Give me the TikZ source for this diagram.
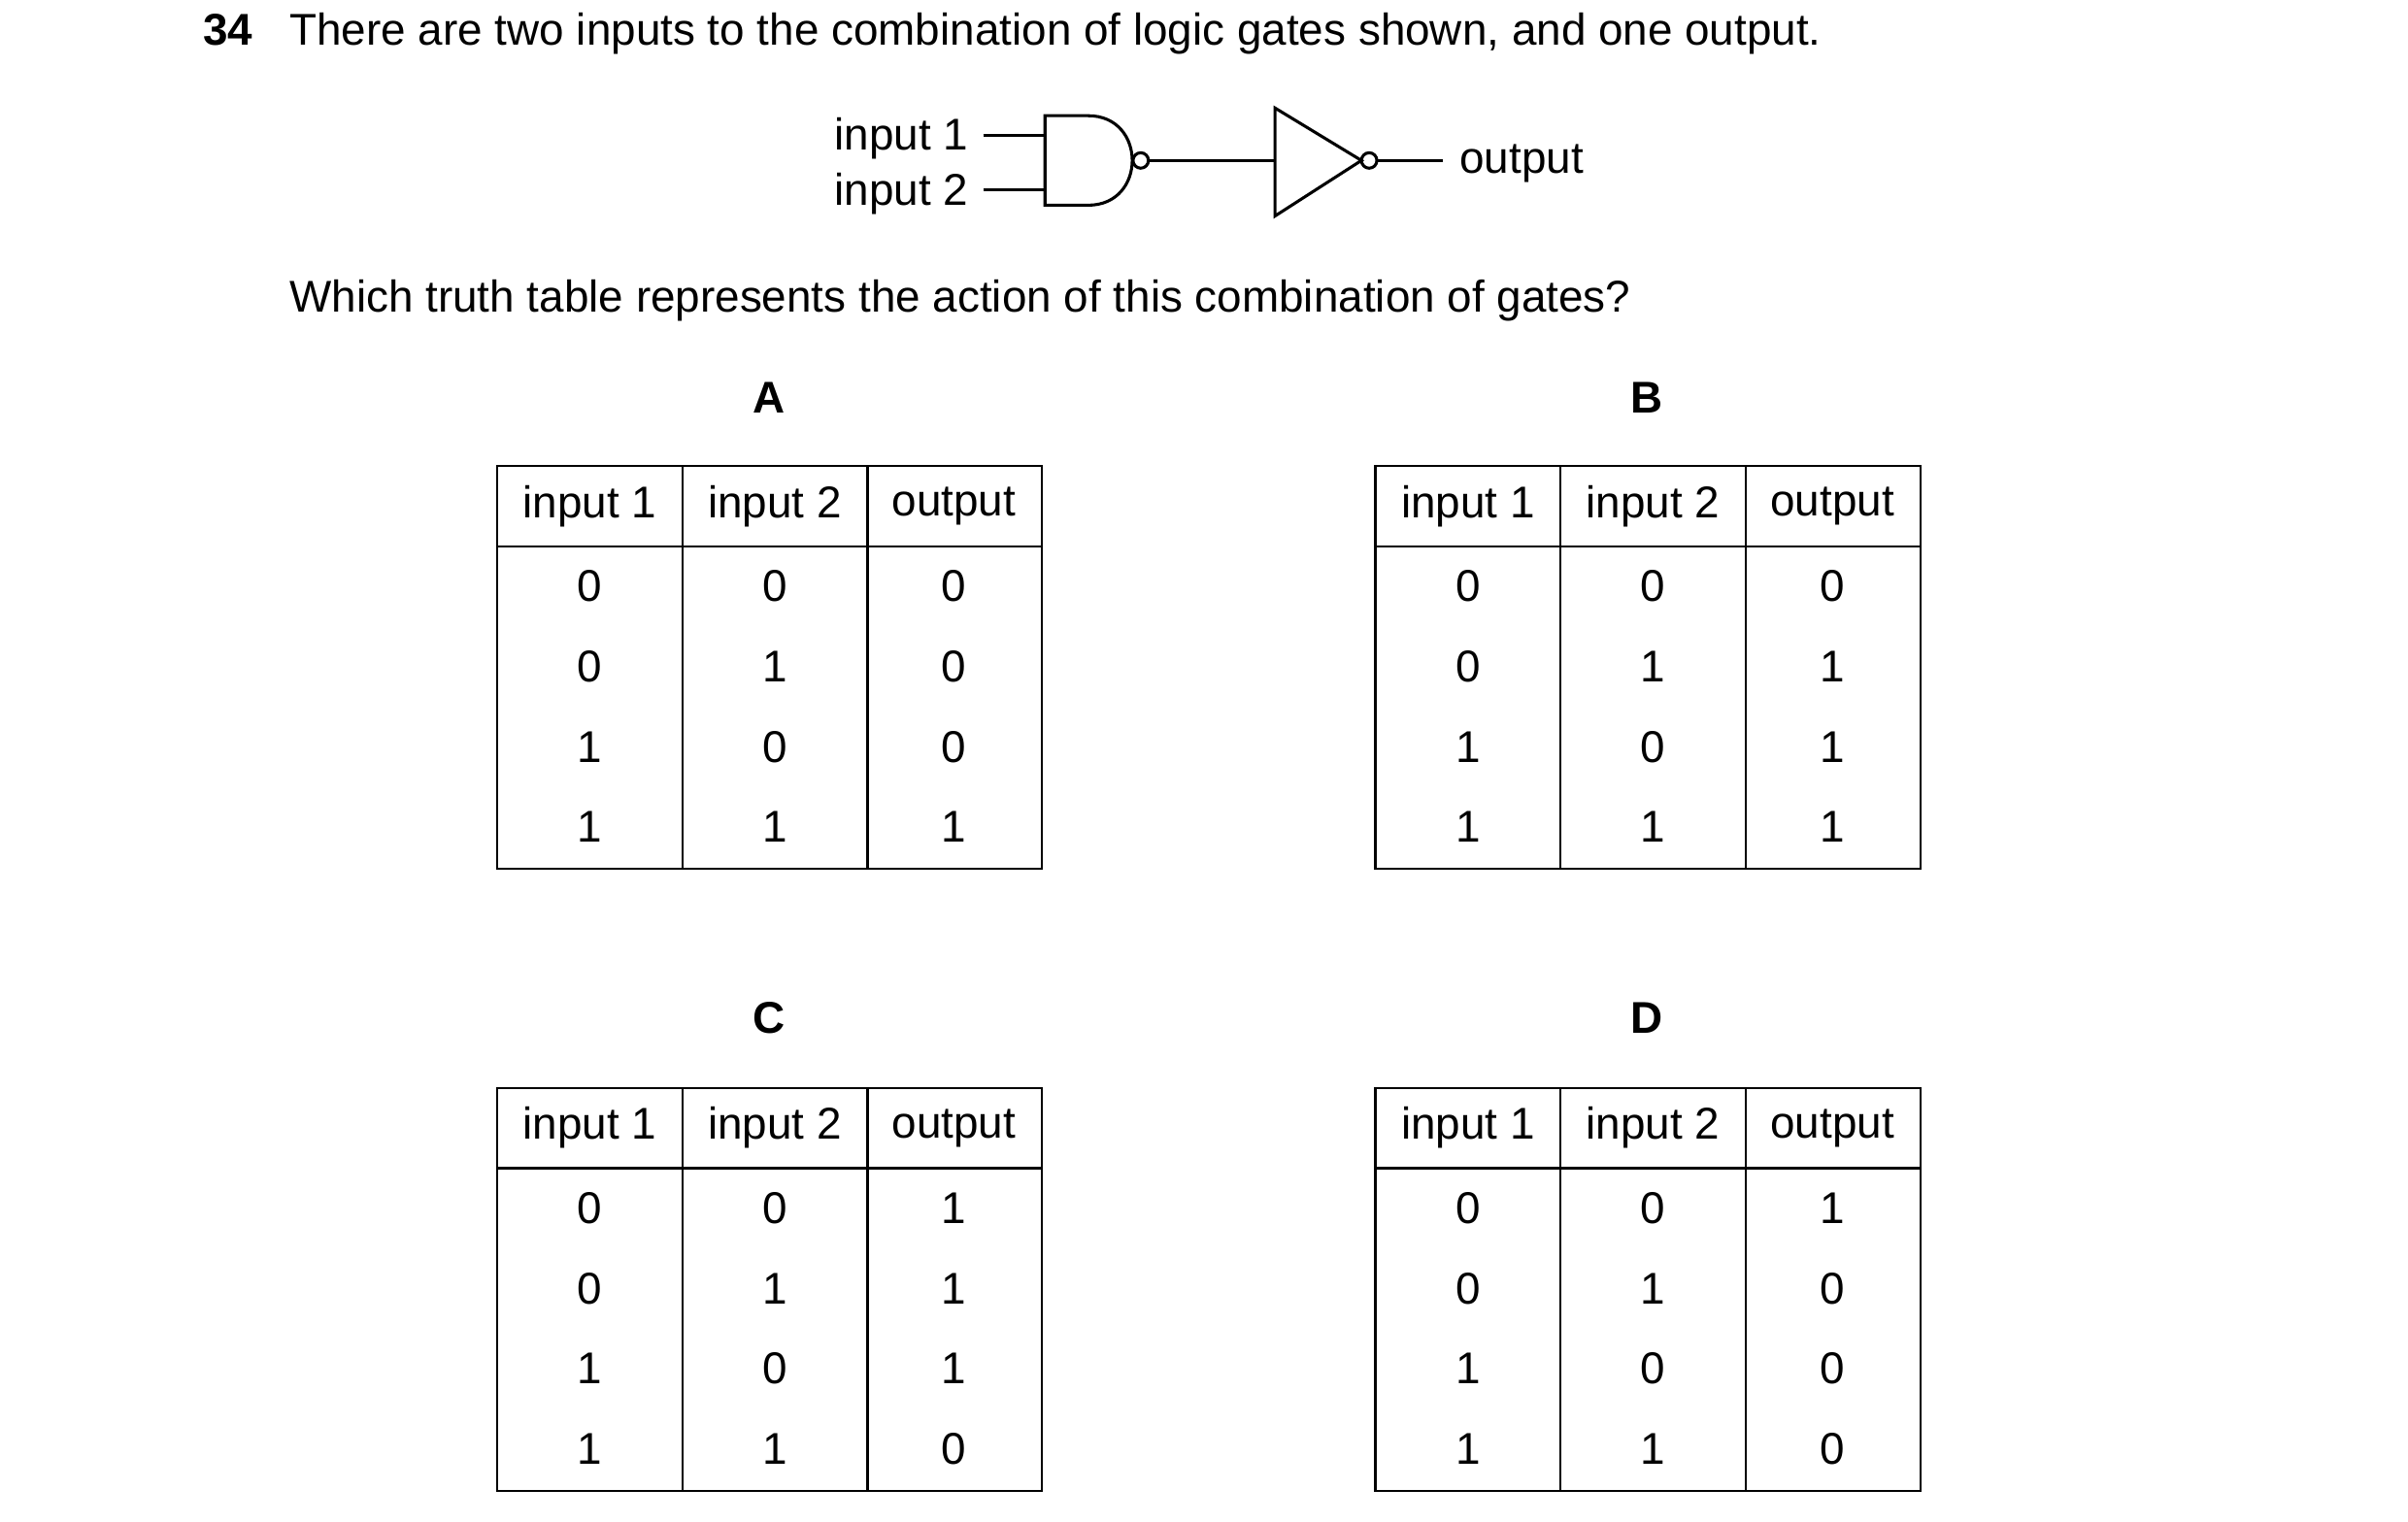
\documentclass[tikz,border=0pt]{standalone}
\usepackage{fontspec}
\setmainfont{Liberation Sans}
\usepackage{tikz}
\tikzset{txt/.style={font=\fontsize{8.2}{10}\selectfont,inner sep=0pt},
  lbl/.style={font=\fontsize{8.2}{10}\selectfont\bfseries,inner sep=0pt},
  gate/.style={line width=0.55pt},
  tab/.style={line width=0.4pt}}
% truth table: left x, top y, output column
\newcommand{\ttable}[3]{
  \draw[tab] (#1,#2) rectangle (#1+353,#2+261);
  \draw[tab] (#1,#2+52) -- (#1+353,#2+52);
  \draw[tab] (#1+120,#2) -- (#1+120,#2+261);
  \draw[tab] (#1+240,#2) -- (#1+240,#2+261);
  \node[txt] at (#1+60,#2+26) {input 1};
  \node[txt] at (#1+180,#2+26) {input 2};
  \node[txt] at (#1+296,#2+26) {output};
  \foreach \a/\b/\c [count=\r] in {#3}
    {\node[txt] at (#1+60,#2+26+52*\r) {\a};
     \node[txt] at (#1+180,#2+26+52*\r) {\b};
     \node[txt] at (#1+296,#2+26+52*\r) {\c};}
}
\begin{document}
\begin{tikzpicture}[x=0.01cm,y=-0.01cm]
  \useasboundingbox (0,0) rectangle (1560,986);
  \node[lbl,anchor=base west] (num) at (131,29) {34};
  \node[txt,anchor=base west] (q1) at (187,29) {There are two inputs to the combination of logic gates shown, and one output.};
  % gates
  \node[txt,anchor=base east] (in1) at (628,97) {input 1};
  \node[txt,anchor=base east] (in2) at (628,133) {input 2};
  \coordinate (a1) at (637,88); \coordinate (a2) at (637,123);
  \coordinate (n1) at (677,88); \coordinate (n2) at (677,123);
  \draw[gate] (677,75) -- (705,75) .. controls (743,75) and (743,133) .. (705,133) -- (677,133) -- cycle;
  \draw[gate] (739,104) circle (5);
  \draw[gate] (826,70) -- (882,104) -- (826,140) -- cycle;
  \draw[gate] (887,104) circle (5);
  \coordinate (nandout) at (744,104); \coordinate (notin) at (826,104);
  \coordinate (notout) at (892,104); \coordinate (oend) at (935,104);
  \node[txt,anchor=base west] (out) at (945,112) {output};
  \draw[gate] (a1) -- (n1) (a2) -- (n2) (nandout) -- (notin) (notout) -- (oend);
  \node[txt,anchor=base west] (q2) at (187,202) {Which truth table represents the action of this combination of gates?};
  % tables
  \node[lbl] (A) at (498,258) {A};
  \node[lbl] (B) at (1067,258) {B};
  \node[lbl] (C) at (498,660) {C};
  \node[lbl] (D) at (1067,660) {D};
  \ttable{322}{302}{0/0/0,0/1/0,1/0/0,1/1/1}
  \ttable{891}{302}{0/0/0,0/1/1,1/0/1,1/1/1}
  \ttable{322}{705}{0/0/1,0/1/1,1/0/1,1/1/0}
  \ttable{891}{705}{0/0/1,0/1/0,1/0/0,1/1/0}
\end{tikzpicture}
\end{document}
